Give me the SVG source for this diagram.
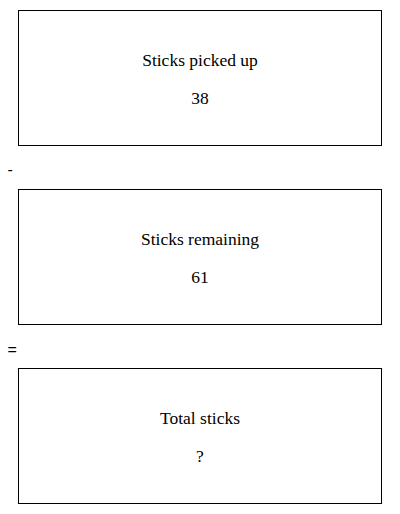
<svg xmlns="http://www.w3.org/2000/svg" width="400" height="514" viewBox="0 0 400 514">
<style>
.box{fill:#fff;stroke:#000;stroke-width:1}
.lbl{font-family:"Liberation Serif","Times New Roman",serif;font-size:17.5px;fill:#000;text-anchor:middle}
.op{font-family:"Liberation Sans",Arial,sans-serif;font-size:16px;fill:#000}
</style>
<rect width="400" height="514" fill="#fff"/>
<g id="picked">
<rect class="box" x="18.5" y="10.5" width="363" height="135"/>
<text class="lbl" x="200" y="65.5">Sticks picked up</text>
<text class="lbl" x="200" y="103.5">38</text>
</g>
<g id="minus"><text class="op" x="7.5" y="175">-</text></g>
<g id="remaining">
<rect class="box" x="18.5" y="189.5" width="363" height="135"/>
<text class="lbl" x="200" y="244.5">Sticks remaining</text>
<text class="lbl" x="200" y="282.5">61</text>
</g>
<g id="equals"><text class="op" x="7.5" y="354.5">=</text></g>
<g id="total">
<rect class="box" x="18.5" y="368.5" width="363" height="135"/>
<text class="lbl" x="200" y="423.5">Total sticks</text>
<text class="lbl" x="200" y="461.5">?</text>
</g>
<g id="connectors"></g>
</svg>
